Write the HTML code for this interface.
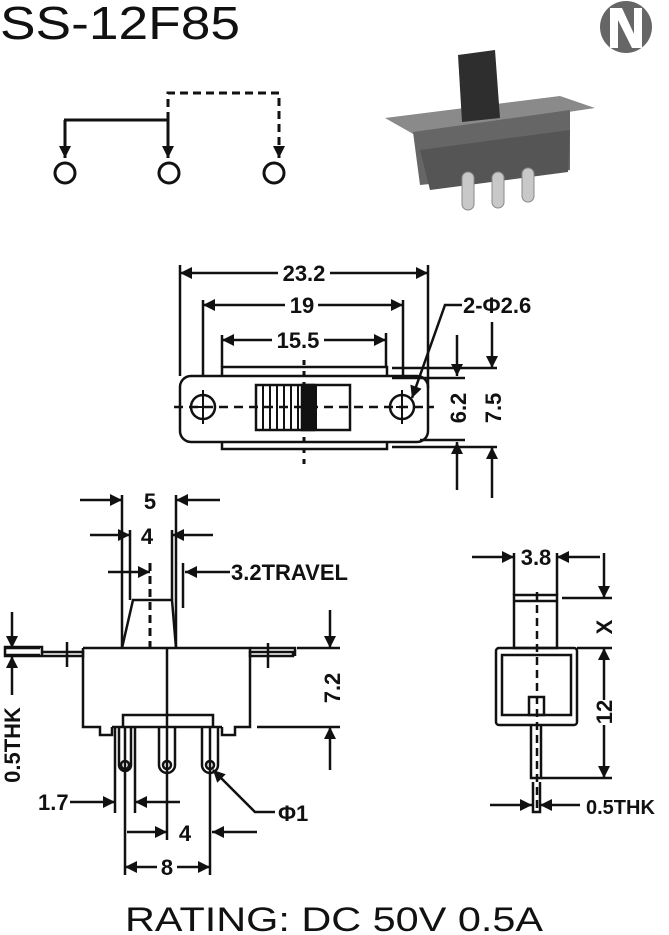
<!DOCTYPE html>
<html><head><meta charset="utf-8"><style>html,body{margin:0;padding:0;background:#fff}svg{display:block}text{font-family:"Liberation Sans",Arial,sans-serif;fill:#111}</style></head><body>
<svg width="669" height="935" viewBox="0 0 669 935" xmlns="http://www.w3.org/2000/svg">
<defs>
<marker id="a" viewBox="0 0 10 10" refX="10" refY="5" markerWidth="17" markerHeight="12" markerUnits="userSpaceOnUse" orient="auto-start-reverse"><path d="M0,0L10,5L0,10z" fill="#111"/></marker>
</defs>
<text x="0" y="39" font-size="46" textLength="240" lengthAdjust="spacingAndGlyphs">SS-12F85</text>
<text x="334" y="931" font-size="34" text-anchor="middle" textLength="418" lengthAdjust="spacingAndGlyphs">RATING: DC 50V 0.5A</text>

<g stroke="#111" stroke-width="3" fill="none">
<path d="M64,120H168"/>
<path d="M65,120V158" marker-end="url(#a)"/>
<path d="M168,120V158" marker-end="url(#a)"/>
<path d="M168,120V93H279V158" stroke-dasharray="8,5" marker-end="url(#a)"/>
<circle cx="65" cy="173" r="10"/><circle cx="169" cy="173" r="10"/><circle cx="274" cy="173" r="10"/>
</g>

<!-- photo -->
<g>
<polygon points="385,118 560,96 595,108 415,135" fill="#8a8a8a"/>
<polygon points="413,132 570,110 570,170 420,185" fill="#666"/>
<polygon points="420,150 570,130 568,172 430,190" fill="#555"/>
<polygon points="458,55 495,50 500,118 462,122" fill="#2e2e2e"/>
<rect x="462" y="172" width="12" height="38" rx="6" fill="#c8c8c8" stroke="#888"/>
<rect x="492" y="172" width="12" height="36" rx="6" fill="#c8c8c8" stroke="#888"/>
<rect x="522" y="168" width="12" height="34" rx="6" fill="#c8c8c8" stroke="#888"/>
</g>
<circle cx="626" cy="27" r="26" fill="#666"/>
<path d="M610,8 L622,8 L634,34 L634,8 L642,8 L642,48 L632,48 L618,20 L618,48 L610,48z" fill="#fff"/>

<!-- top view -->
<g stroke="#111" stroke-width="2.5" fill="none">
<rect x="180" y="376" width="248" height="66" rx="11"/>
<path d="M222,375V367H387V375M222,443V449H387V443"/>
<circle cx="203" cy="407" r="12"/><circle cx="402" cy="407" r="12"/>
<path d="M203,390V424M402,390V424M197,407H209M396,407H408" stroke-width="2"/>
<rect x="256" y="385" width="94" height="45"/>
<path d="M263,385V430M270,385V430M277,385V430M284,385V430M291,385V430M298,385V430M316,385V430" stroke-width="2"/>
<rect x="302" y="385" width="12" height="45" fill="#111"/>
<path d="M174,407H434" stroke-dasharray="9,6"/>
<path d="M304,360V464" stroke-dasharray="5,6" stroke-width="3"/>
<path d="M180,265V376M428,265V388M203,300V376M403,300V376M222,335V367M386,333V367"/>
<path d="M392,378H465M392,368H497M420,440H465M392,447H497"/>
<path d="M180,273H278" marker-start="url(#a)"/><path d="M330,273H428" marker-end="url(#a)"/>
<path d="M203,305H285" marker-start="url(#a)"/><path d="M318,305H403" marker-end="url(#a)"/>
<path d="M222,340H272" marker-start="url(#a)"/><path d="M324,340H386" marker-end="url(#a)"/>
<path d="M462,305H445L412,398" marker-end="url(#a)"/>
<path d="M457,335V376" marker-end="url(#a)"/><path d="M457,490V442" marker-end="url(#a)"/>
<path d="M492,322V368" marker-end="url(#a)"/><path d="M492,498V447" marker-end="url(#a)"/>
</g>
<g font-size="22" font-weight="bold">
<text x="304" y="281" text-anchor="middle">23.2</text>
<text x="302" y="313" text-anchor="middle">19</text>
<text x="298" y="348" text-anchor="middle">15.5</text>
<text x="463" y="313">2-Φ2.6</text>
<text transform="translate(466,408) rotate(-90)" text-anchor="middle">6.2</text>
<text transform="translate(501,408) rotate(-90)" text-anchor="middle">7.5</text>
</g>

<!-- side view -->
<g stroke="#111" stroke-width="2.5" fill="none">
<path d="M83,648H250V727H235V735H222V727"/>
<path d="M83,648V727H100V735H112V727"/>
<path d="M123,727V715H213V727M112,727H222"/>
<path d="M5,647H42V656H5zM42,652H83V656H42M250,652H293V656H250zM250,648H295V656"/>
<path d="M67,642V667M268,643V668"/>
<path d="M122,648L133,600H172L176,648"/>
<path d="M122,495V648M176,495V648M130,530V600M172,530V600M183,563V608"/>
<path d="M150,563V648" stroke-dasharray="8,5" stroke-width="3"/>
<path d="M167,648V840"/>
<path d="M115,727V813M135,727V813"/>
<path d="M119,727V765A6,6 0 0 0 131,765V727"/>
<path d="M159,727V765A8,8 0 0 0 175,765V727"/>
<path d="M202,727V765A8,8 0 0 0 218,765V727"/>
<circle cx="125" cy="765" r="4"/><circle cx="167" cy="765" r="4"/><circle cx="210" cy="765" r="4"/>
<path d="M125,727V875M210,727V875"/>
<path d="M5,648H40M5,655H40M297,648H340M257,727H340"/>
<path d="M80,500H122" marker-end="url(#a)"/><path d="M220,500H176" marker-end="url(#a)"/>
<path d="M90,535H130" marker-end="url(#a)"/><path d="M213,535H172" marker-end="url(#a)"/>
<path d="M108,572H150" marker-end="url(#a)"/><path d="M230,572H185" marker-end="url(#a)"/>
<path d="M12,612V648" marker-end="url(#a)"/><path d="M12,695V656" marker-end="url(#a)"/>
<path d="M330,610V648" marker-end="url(#a)"/><path d="M330,770V727" marker-end="url(#a)"/>
<path d="M70,802H115" marker-end="url(#a)"/><path d="M180,802H135" marker-end="url(#a)"/>
<path d="M275,812H255L213,770" marker-end="url(#a)"/>
<path d="M127,832H167" marker-end="url(#a)"/><path d="M257,832H212" marker-end="url(#a)"/>
<path d="M157,867H125" marker-end="url(#a)"/><path d="M177,867H210" marker-end="url(#a)"/>
</g>
<g font-size="22" font-weight="bold">
<text x="150" y="509" text-anchor="middle">5</text>
<text x="147" y="544" text-anchor="middle">4</text>
<text x="231" y="580">3.2TRAVEL</text>
<text transform="translate(20,745) rotate(-90)" text-anchor="middle">0.5THK</text>
<text transform="translate(340,688) rotate(-90)" text-anchor="middle">7.2</text>
<text x="38" y="810">1.7</text>
<text x="278" y="821">Φ1</text>
<text x="185" y="841" text-anchor="middle">4</text>
<text x="167" y="875" text-anchor="middle">8</text>
</g>

<!-- right view -->
<g stroke="#111" stroke-width="2.5" fill="none">
<rect x="514" y="595" width="43" height="53"/>
<path d="M514,601H557"/>
<rect x="496" y="648" width="81" height="77" rx="3"/>
<rect x="502" y="655" width="69" height="60"/>
<rect x="529" y="697" width="15" height="18"/>
<path d="M531,725V778H541V725M533,782V812H540V782"/>
<path d="M537,592V812" stroke-dasharray="8,5" stroke-width="2.5"/>
<path d="M514,553V595M557,553V595"/>
<path d="M562,598H612M577,648H612M541,778H612"/>
<path d="M472,557H514" marker-end="url(#a)"/><path d="M600,557H557" marker-end="url(#a)"/>
<path d="M604,553V598" marker-end="url(#a)"/>
<path d="M604,700V648" marker-end="url(#a)"/><path d="M604,725V778" marker-end="url(#a)"/>
<path d="M490,805H532" marker-end="url(#a)"/><path d="M580,805H540" marker-end="url(#a)"/>
</g>
<g font-size="22" font-weight="bold">
<text x="536" y="565" text-anchor="middle">3.8</text>
<text transform="translate(612,627) rotate(-90)" text-anchor="middle">X</text>
<text transform="translate(612,712) rotate(-90)" text-anchor="middle">12</text>
<text x="586" y="814" font-size="20">0.5THK</text>
</g>
</svg>
</body></html>
